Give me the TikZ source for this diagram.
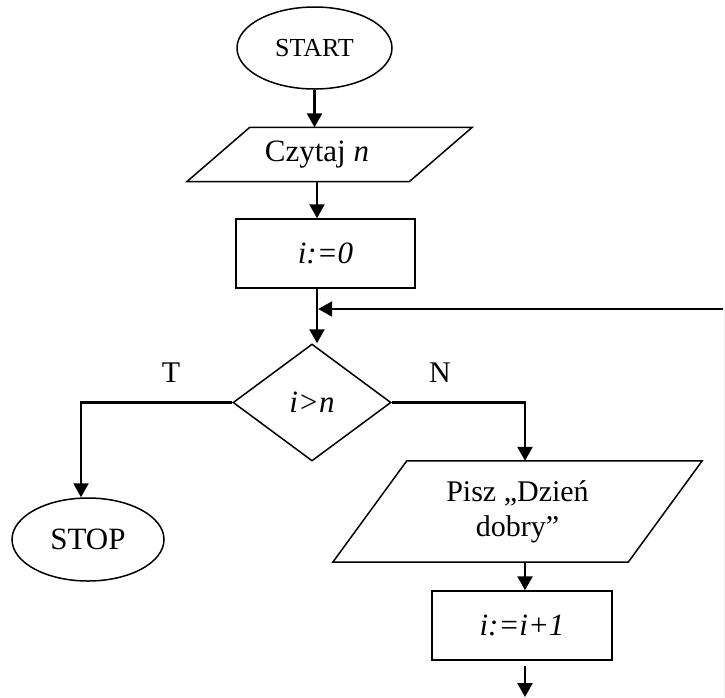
\documentclass[tikz,border=0pt]{standalone}
\usepackage{fontspec}
\setmainfont{Liberation Serif}
\usetikzlibrary{shapes.geometric,arrows.meta}
\begin{document}
\begin{tikzpicture}[x=1pt,y=-1pt,
  outline/.style={draw,line width=1.5pt,inner sep=0pt},
  edge/.style={line width=1.5pt,line join=miter},
  term/.style={outline,ellipse},
  proc/.style={outline,rectangle},
  iobox/.style={rectangle,inner sep=0pt},
  cond/.style={outline,diamond},
  flow/.style={line width=2.4pt,-{Triangle[width=15pt,length=14pt]}},
  lbl/.style={font=\fontsize{30}{35}\selectfont},
  txt/.style={font=\fontsize{31}{35}\selectfont}
]
\useasboundingbox (0,0) rectangle (725,697);

% blocks
\node[term,minimum width=155pt,minimum height=82pt,font=\fontsize{26}{30}\selectfont] (start) at (314.5,48) {START};
\node[iobox,minimum width=285pt,minimum height=54pt,txt] (read) at (329.5,154.5) {Czytaj \textit{n}\hspace*{25pt}};
\node[proc,minimum width=179pt,minimum height=69pt,txt] (init) at (325.5,253.5) {\itshape i:=0};
\node[cond,minimum width=158pt,minimum height=117pt,txt] (test) at (312,402.5) {\itshape i>n};
\node[term,minimum width=152pt,minimum height=83pt,txt] (stop) at (88,539.5) {STOP};
\node[iobox,minimum width=369pt,minimum height=101pt,lbl,align=center] (print) at (517.5,511.5) {Pisz „Dzień\\dobry”};
\node[proc,minimum width=180pt,minimum height=69pt,txt] (incr) at (522,625.5) {\itshape i:=i+1};

% parallelogram outlines of the input/output blocks
\draw[edge] ([xshift=63pt]read.north west) -- (read.north east)
  -- ([xshift=-63pt]read.south east) -- (read.south west) -- cycle;
\draw[edge] ([xshift=74pt]print.north west) -- (print.north east)
  -- ([xshift=-74pt]print.south east) -- (print.south west) -- cycle;

% branch labels
\node[lbl] (tlabel) at (171,373) {T};
\node[lbl] (nlabel) at (440,373) {N};

% columns and free ends
\coordinate (main) at (317,0);
\coordinate (stopcol) at (81,0);
\coordinate (ncol) at (525,0);
\coordinate (loopin) at (723,309);
\coordinate (outtop) at (525,666);
\coordinate (outend) at (525,697);

% connectors
\draw[flow] (start.south) -- (start.south |- read.north);
\draw[flow] (main |- read.south) -- (main |- init.north);
\draw[flow] (main |- init.south) -- (main |- test.north);
\draw[flow] (loopin) -- ([xshift=1.2pt]main |- loopin);
\draw[flow] (test.west) -| (stopcol |- stop.north);
\draw[flow] (test.east) -| (ncol |- print.north);
\draw[flow] (ncol |- print.south) -- (ncol |- incr.north);
\draw[flow] (outtop) -- (outend);

% page edge
\draw[gray!12,line width=1pt] (724,310) -- (724,697);
\end{tikzpicture}
\end{document}
